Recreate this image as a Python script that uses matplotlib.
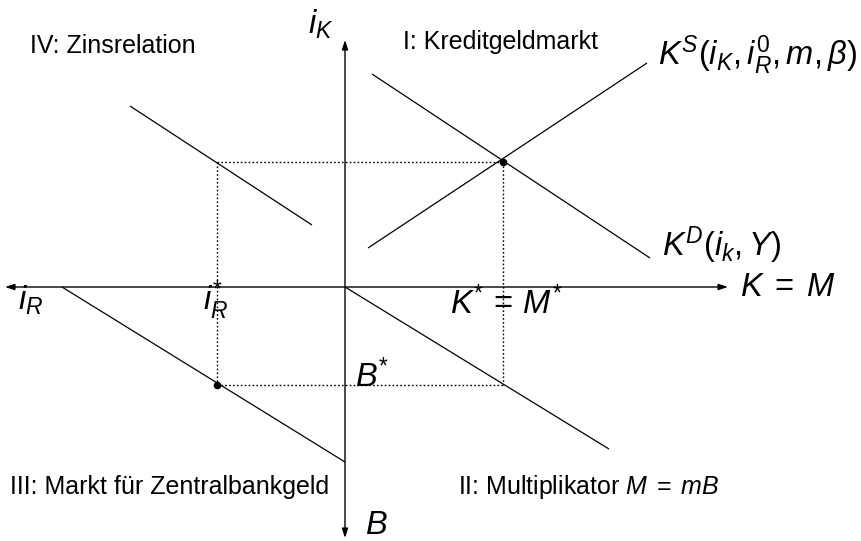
import matplotlib
matplotlib.use("Agg")
import matplotlib.pyplot as plt

# ---- Schriften: LaTeX-Sans-Optik nachbilden ----
plt.rcParams['font.family'] = ['Liberation Sans', 'DejaVu Sans']
plt.rcParams['mathtext.fontset'] = 'custom'
plt.rcParams['mathtext.rm'] = 'Liberation Sans'
plt.rcParams['mathtext.it'] = 'Liberation Sans:italic'
plt.rcParams['mathtext.bf'] = 'Liberation Sans:bold'

# ---- Daten (Ursprung = Achsenkreuz) ----
# Achsen
x_axis = [-340, 383]
y_axis = [-251, 247]

# Quadrant I: Kreditgeldmarkt
kd_x = [27, 305]
kd_y = [213, 29]
ks_x = [23, 302]
ks_y = [39, 224]

# Quadrant IV: Zinsrelation
zins_x = [-215, -33]
zins_y = [181, 62]

# Quadrant III: Markt fuer Zentralbankgeld
zb_x = [-283, 0]
zb_y = [0, -175]

# Quadrant II: Multiplikator
mult_x = [0, 264]
mult_y = [0, -162]

# Gleichgewichtswerte
k_star = 158
ik_star = 125
ir_star = -128
b_star = -98

fig = plt.figure(figsize=(8.62, 5.41), dpi=100)
ax = fig.add_axes([0, 0, 1, 1])
ax.set_xlim(-345, 517)
ax.set_ylim(-254, 287)
ax.axis('off')

# Achsen mit Pfeilen in beide Richtungen
arrow = dict(arrowstyle='<|-|>,head_length=0.55,head_width=0.18', lw=1.0,
             color='black', shrinkA=0, shrinkB=0)
ax.annotate('', xy=(x_axis[1], 0), xytext=(x_axis[0], 0), arrowprops=arrow)
ax.annotate('', xy=(0, y_axis[1]), xytext=(0, y_axis[0]), arrowprops=arrow)

# Kurven
for xs, ys in [(kd_x, kd_y), (ks_x, ks_y), (zins_x, zins_y),
               (zb_x, zb_y), (mult_x, mult_y)]:
    ax.plot(xs, ys, color='black', lw=0.9, solid_capstyle='butt')

# gepunktetes Rechteck durch die Gleichgewichte
dot = dict(color='black', lw=1.0, linestyle=(0, (1.2, 1.6)))
ax.plot([ir_star, k_star], [ik_star, ik_star], **dot)
ax.plot([k_star, k_star], [ik_star, b_star], **dot)
ax.plot([ir_star, ir_star], [ik_star, b_star], **dot)
ax.plot([ir_star, k_star], [b_star, b_star], **dot)

ax.plot([k_star, ir_star], [ik_star, b_star], 'o', color='black', ms=4.5)

# Beschriftungen
fs = 18
fm = 23.5
ax.text(-315, 241, 'IV: Zinsrelation', fontsize=fs, ha='left', va='center')
ax.text(58, 245, 'I: Kreditgeldmarkt', fontsize=fs, ha='left', va='center')
ax.text(-335, -200, 'III: Markt für Zentralbankgeld', fontsize=fs,
        ha='left', va='center')
ax.text(113, -200, r'II: Multiplikator $M\;=\;mB$', fontsize=fs,
        ha='left', va='center')

ax.text(313, 232, r'$K^S(i_K, i_R^0, m, \beta)$', fontsize=fm, ha='left', va='center')
ax.text(317, 42, r'$K^D(i_k, Y)$', fontsize=fm, ha='left', va='center')
ax.text(-12, 263, r'$i_K$', fontsize=fm, ha='right', va='center')
ax.text(395, 0, r'$K\;=\;M$', fontsize=fm, ha='left', va='center')
ax.text(105, -17, r'$K^{*}\,=\,M^{*}$', fontsize=fm, ha='left', va='center')
ax.text(-327, -13, r'$i_R$', fontsize=fm, ha='left', va='center')
ax.text(-129, -13, r'$i_R^{*}$', fontsize=fm, ha='center', va='center')
ax.text(10, -90, r'$B^{*}$', fontsize=fm, ha='left', va='center')
ax.text(20, -238, r'$B$', fontsize=fm, ha='left', va='center')

fig.savefig('out.png', dpi=100)
